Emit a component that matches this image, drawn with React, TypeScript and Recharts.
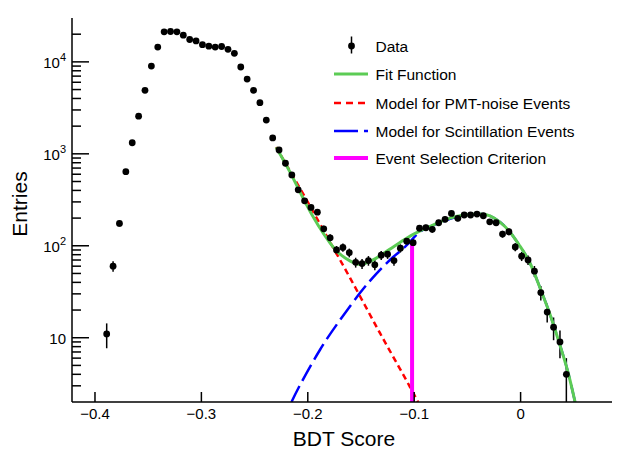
import React from "react";
import {
  ComposedChart,
  Scatter,
  Line,
  XAxis,
  YAxis,
  ErrorBar,
} from "recharts";

// BDT score bin centres and entries
const binCenters = [
  -0.389, -0.383, -0.377, -0.371, -0.365, -0.359, -0.353, -0.347, -0.341, -0.335,
  -0.329, -0.323, -0.317, -0.311, -0.305, -0.299, -0.293, -0.287, -0.281, -0.275,
  -0.269, -0.263, -0.257, -0.251, -0.245, -0.239, -0.233, -0.227, -0.221, -0.215,
  -0.209, -0.203, -0.197, -0.191, -0.185, -0.179, -0.173, -0.167, -0.161, -0.155,
  -0.149, -0.143, -0.137, -0.131, -0.125, -0.119, -0.113, -0.107, -0.101, -0.095,
  -0.089, -0.083, -0.077, -0.071, -0.065, -0.059, -0.053, -0.047, -0.041, -0.035,
  -0.029, -0.023, -0.017, -0.011, -0.005, 0.001, 0.007, 0.013, 0.019, 0.025,
  0.031, 0.037, 0.043,
];
const entries = [
  11, 60, 175, 640, 1320, 2570, 4900, 9000, 14500, 21200,
  21400, 21200, 19500, 17500, 16900, 15400, 14800, 14500, 14700, 13700,
  12400, 8800, 6500, 4900, 3600, 2330, 1490, 1100, 790, 590,
  406, 308, 261, 232, 153, 122, 90, 96, 84, 66,
  64, 69, 62, 79, 81, 69, 94, 112, 108, 155,
  157, 151, 178, 194, 225, 199, 216, 216, 221, 212,
  182, 178, 134, 142, 97, 77, 70, 53, 31, 19,
  13, 9, 4,
];

// fit function (total)
const fitX = [
  -0.2298, -0.2167, -0.2035, -0.1904, -0.179, -0.1697, -0.16, -0.1528, -0.1453,
  -0.136, -0.1227, -0.1086, -0.0945, -0.0804, -0.0663, -0.0523, -0.038, -0.0288,
  -0.0194, -0.01, -0.0006, 0.0088, 0.0182, 0.0276, 0.037, 0.0446, 0.0512,
];
const fitY = [
  1180, 632, 314, 168, 107, 81, 68, 63, 65,
  73, 92, 118, 145, 172, 200, 216, 221, 211,
  181, 141, 99, 65, 35, 18, 8.3, 4.2, 2.0,
];

// PMT-noise model
const noiseX = [-0.2298, -0.2167, -0.2026, -0.1885, -0.1744, -0.1603, -0.1462, -0.1321, -0.118, -0.1039, -0.0964];
const noiseY = [1180, 649, 338, 172, 87.8, 44.7, 22.4, 11.2, 5.72, 2.91, 2.0];

// scintillation model
const scintX = [
  -0.2153, -0.2073, -0.1885, -0.1697, -0.151, -0.135, -0.12, -0.1068, -0.0945,
  -0.0804, -0.0663, -0.0523, -0.038, -0.0288, -0.0194, -0.01, -0.0006, 0.0088,
  0.0182, 0.0276, 0.037, 0.0446, 0.0512,
];
const scintY = [
  2.0, 3.06, 7.4, 15.6, 30.6, 50.5, 75, 102, 142,
  170, 197, 216, 221, 211, 181, 141, 99, 65,
  35, 18, 8.3, 4.2, 2.0,
];

// selection cut
const cutX = [-0.102, -0.102];
const cutY = [2, 110];

const xTicks = [-0.4, -0.3, -0.2, -0.1, 0];
const xTickLabels = ["\u22120.4", "\u22120.3", "\u22120.2", "\u22120.1", "0"];
const yMajor = [10, 100, 1000, 10000];
const yMinor = [3, 4, 5, 6, 7, 8, 9, 20, 30, 40, 50, 60, 70, 80, 90, 200, 300, 400, 500, 600, 700, 800, 900, 2000, 3000, 4000, 5000, 6000, 7000, 8000, 9000, 20000];

const legendLabels = [
  "Data",
  "Fit Function",
  "Model for PMT-noise Events",
  "Model for Scintillation Events",
  "Event Selection Criterion",
];

const FONT = "'Liberation Sans', Arial, Helvetica, sans-serif";

const dataRows = binCenters.map((x, i) => ({ x, v: entries[i], err: Math.sqrt(entries[i]) }));
const fitRows = fitX.map((x, i) => ({ x, y: fitY[i] }));
const noiseRows = noiseX.map((x, i) => ({ x, y: noiseY[i] }));
const scintRows = scintX.map((x, i) => ({ x, y: scintY[i] }));
const cutRows = cutX.map((x, i) => ({ x, y: cutY[i] }));

const XTick = (props: any) => {
  const { x, y, payload } = props;
  const idx = xTicks.indexOf(payload.value);
  return (
    <g>
      <line x1={x} x2={x} y1={y} y2={y - 10} stroke="#000" strokeWidth={1.5} />
      <text x={x} y={y + 17} textAnchor="middle" fontSize={15} fontFamily={FONT} fill="#000">
        {idx >= 0 ? xTickLabels[idx] : ""}
      </text>
    </g>
  );
};

const YTick = (props: any) => {
  const { x, y, payload } = props;
  const v = payload.value;
  const major = yMajor.includes(v);
  if (!major) {
    return <line x1={x} x2={x + 9} y1={y} y2={y} stroke="#000" strokeWidth={1.5} />;
  }
  const exp = Math.round(Math.log10(v));
  return (
    <g>
      <line x1={x} x2={x + 17} y1={y} y2={y} stroke="#000" strokeWidth={1.5} />
      <text x={x - 6} y={y + 6} textAnchor="end" fontSize={15} fontFamily={FONT} fill="#000">
        <tspan>10</tspan>
        {exp > 1 ? (
          <tspan dy={-7} fontSize={11}>
            {exp}
          </tspan>
        ) : null}
      </text>
    </g>
  );
};

const Dot = (props: any) => <circle cx={props.cx} cy={props.cy} r={3.4} fill="#000" />;

function Legend() {
  const rowY = [46, 74, 103, 131, 158];
  return (
    <svg width={618} height={451} style={{ position: "absolute", left: 0, top: 0, pointerEvents: "none" }}>
      <line x1={351.5} x2={351.5} y1={36.5} y2={53.5} stroke="#000" strokeWidth={1.5} />
      <circle cx={351.5} cy={rowY[0]} r={3.4} fill="#000" />
      <line x1={334} x2={368} y1={rowY[1]} y2={rowY[1]} stroke="#5ccc55" strokeWidth={3} />
      <line x1={334} x2={368} y1={rowY[2]} y2={rowY[2]} stroke="#ff0000" strokeWidth={2.5} strokeDasharray="7 5" />
      <line x1={334} x2={368} y1={rowY[3]} y2={rowY[3]} stroke="#0000ff" strokeWidth={2.5} strokeDasharray="24 6" />
      <line x1={334} x2={368} y1={rowY[4]} y2={rowY[4]} stroke="#ff00ff" strokeWidth={4} />
      {legendLabels.map((t, i) => (
        <text key={t} x={375.5} y={rowY[i] + 5.5} fontSize={15.5} fontFamily={FONT} fill="#000">
          {t}
        </text>
      ))}
    </svg>
  );
}

export default function App() {
  return (
    <div style={{ position: "absolute", left: 0, top: 0, width: 618, height: 451, background: "#fff" }}>
      <ComposedChart width={618} height={451} margin={{ top: 18, right: 6, bottom: 0, left: 0 }}>
        <XAxis
          dataKey="x"
          type="number"
          domain={[-0.4216, 0.0859]}
          allowDataOverflow
          ticks={xTicks}
          interval={0}
          height={49}
          tickSize={0}
          tickMargin={0}
          tick={<XTick />}
          axisLine={{ stroke: "#000", strokeWidth: 1.5 }}
        />
        <YAxis
          type="number"
          scale="log"
          domain={[2, 30000]}
          allowDataOverflow
          ticks={[...yMinor, ...yMajor].sort((a, b) => a - b)}
          interval={0}
          width={72}
          tickSize={0}
          tickMargin={0}
          tick={<YTick />}
          axisLine={{ stroke: "#000", strokeWidth: 1.5 }}
        />
        <Scatter data={dataRows} dataKey="v" shape={<Dot />} isAnimationActive={false}>
          <ErrorBar dataKey="err" direction="y" width={0} stroke="#000" strokeWidth={1.5} />
        </Scatter>
        <Line data={noiseRows} dataKey="y" type="natural" stroke="#ff0000" strokeWidth={2.5} strokeDasharray="6 4" dot={false} isAnimationActive={false} />
        <Line data={scintRows} dataKey="y" type="natural" stroke="#0000ff" strokeWidth={2.5} strokeDasharray="18 6" dot={false} isAnimationActive={false} />
        <Line data={fitRows} dataKey="y" type="natural" stroke="#5ccc55" strokeWidth={3} dot={false} isAnimationActive={false} />
        <Line data={cutRows} dataKey="y" type="linear" stroke="#ff00ff" strokeWidth={4} dot={false} isAnimationActive={false} />
      </ComposedChart>
      <svg width={618} height={451} style={{ position: "absolute", left: 0, top: 0, pointerEvents: "none" }}>
        <text x={344} y={446} textAnchor="middle" fontSize={21} fontFamily={FONT} fill="#000">
          BDT Score
        </text>
        <text x={0} y={0} transform="translate(26.5,204) rotate(-90)" textAnchor="middle" fontSize={21} fontFamily={FONT} fill="#000">
          Entries
        </text>
      </svg>
      <Legend />
    </div>
  );
}
